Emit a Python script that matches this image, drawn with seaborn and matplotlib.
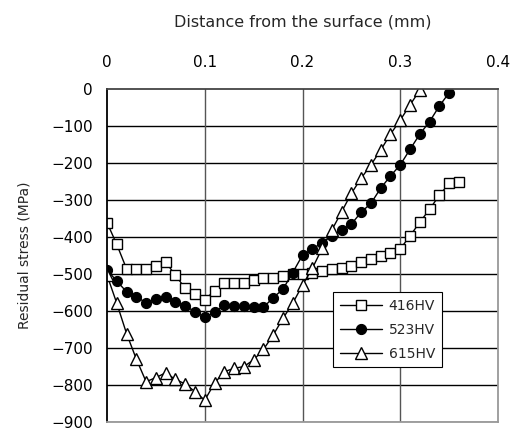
import matplotlib
matplotlib.use("Agg")
import matplotlib.pyplot as plt
import seaborn as sns

# depth in mm, residual stress in MPa
x_416 = [0.00, 0.01, 0.02, 0.03, 0.04, 0.05, 0.06, 0.07, 0.08, 0.09, 0.10, 0.11,
         0.12, 0.13, 0.14, 0.15, 0.16, 0.17, 0.18, 0.19, 0.20, 0.21, 0.22, 0.23,
         0.24, 0.25, 0.26, 0.27, 0.28, 0.29, 0.30, 0.31, 0.32, 0.33, 0.34, 0.35, 0.36]
y_416 = [-361, -420, -486, -486, -486, -477, -468, -503, -539, -554, -570, -545,
         -525, -525, -525, -516, -510, -510, -505, -500, -500, -497, -491, -486,
         -483, -477, -467, -459, -452, -443, -432, -397, -360, -325, -287, -255, -250]

x_523 = [0.00, 0.01, 0.02, 0.03, 0.04, 0.05, 0.06, 0.07, 0.08, 0.09, 0.10, 0.11,
         0.12, 0.13, 0.14, 0.15, 0.16, 0.17, 0.18, 0.19, 0.20, 0.21, 0.22, 0.23,
         0.24, 0.25, 0.26, 0.27, 0.28, 0.29, 0.30, 0.31, 0.32, 0.33, 0.34, 0.35]
y_523 = [-489, -519, -548, -561, -578, -568, -561, -575, -586, -602, -617, -604,
         -584, -586, -586, -590, -590, -564, -541, -496, -449, -433, -415, -397,
         -381, -365, -333, -309, -268, -235, -205, -163, -122, -88, -46, -10]

x_615 = [0.00, 0.01, 0.02, 0.03, 0.04, 0.05, 0.06, 0.07, 0.08, 0.09, 0.10, 0.11,
         0.12, 0.13, 0.14, 0.15, 0.16, 0.17, 0.18, 0.19, 0.20, 0.21, 0.22, 0.23,
         0.24, 0.25, 0.26, 0.27, 0.28, 0.29, 0.30, 0.31, 0.32]
y_615 = [-503, -579, -661, -730, -791, -780, -767, -785, -797, -818, -841, -795,
         -764, -755, -750, -732, -704, -665, -620, -579, -530, -485, -431, -381,
         -332, -282, -241, -205, -165, -122, -84, -43, -3]

labels = ["416HV", "523HV", "615HV"]
x_ticks = [0, 0.1, 0.2, 0.3, 0.4]
x_tick_labels = ["0", "0.1", "0.2", "0.3", "0.4"]
y_ticks = list(range(0, -1000, -100))

sns.set_theme(style="white")
plt.rcParams["font.family"] = ["DejaVu Sans"]

fig = plt.figure(figsize=(5.11, 4.28), dpi=100)
ax = fig.add_axes([0.2094, 0.014, 0.7652, 0.778])

# grid first so the data sits on top
for yv in y_ticks[1:]:
    ax.axhline(yv, color="black", lw=1.0, zorder=0)
for xv in x_ticks[1:-1]:
    ax.axvline(xv, color="#555555", lw=1.0, zorder=0)

sns.lineplot(x=x_416, y=y_416, ax=ax, color="black", lw=1, marker="s",
             markersize=7, markerfacecolor="white", markeredgecolor="black",
             markeredgewidth=1, label=labels[0])
sns.lineplot(x=x_523, y=y_523, ax=ax, color="black", lw=1, marker="o",
             markersize=7.3, markerfacecolor="black", markeredgecolor="black",
             label=labels[1])
sns.lineplot(x=x_615, y=y_615, ax=ax, color="black", lw=1, marker="^",
             markersize=8.5, markerfacecolor="white", markeredgecolor="black",
             markeredgewidth=1, label=labels[2])

ax.set_xlim(0, 0.4)
ax.set_ylim(-900, 0)
ax.xaxis.tick_top()
ax.xaxis.set_label_position("top")
ax.set_xticks(x_ticks)
ax.set_xticklabels(x_tick_labels)
ax.set_yticks(y_ticks)
ax.set_yticklabels([str(v).replace("-", "\u2212") for v in y_ticks])
ax.tick_params(axis="both", length=0, labelsize=11, colors="black")
ax.tick_params(axis="x", pad=14)
ax.tick_params(axis="y", pad=10)
ax.set_xlabel("Distance from the surface (mm)", fontsize=11.5, labelpad=20)
ax.set_ylabel("Residual stress (MPa)", fontsize=10, labelpad=14)

ax.spines["left"].set_color("black")
ax.spines["top"].set_color("#444444")
ax.spines["right"].set_color("#999999")
ax.spines["bottom"].set_color("#999999")
for s in ax.spines.values():
    s.set_linewidth(1.3)

leg = ax.legend(loc="upper left", bbox_to_anchor=(0.578, 0.39), frameon=True,
                fancybox=False, edgecolor="black", framealpha=1, fontsize=10,
                handlelength=3.0, borderpad=0.5, labelspacing=0.7,
                handletextpad=0.5, borderaxespad=0)
leg.get_frame().set_linewidth(0.8)

fig.savefig("out.png", dpi=100)
